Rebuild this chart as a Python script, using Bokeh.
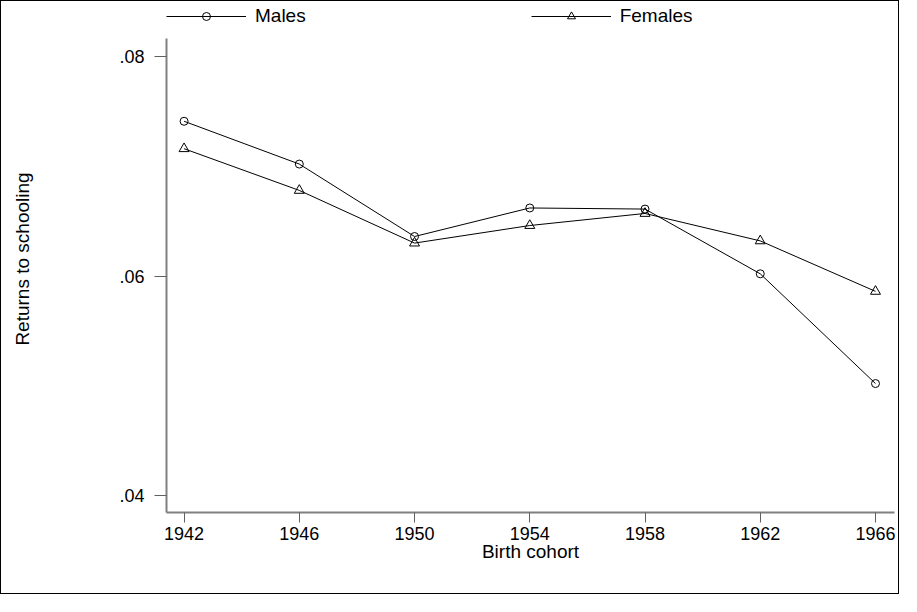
from bokeh.plotting import figure
from bokeh.models import Range1d, FixedTicker, CustomJSTickFormatter, Legend
from bokeh.embed import file_html
from bokeh.resources import INLINE

cohorts = [1942, 1946, 1950, 1954, 1958, 1962, 1966]
males = [0.0741, 0.0702, 0.0636, 0.0662, 0.0661, 0.0602, 0.0502]
females = [0.0716, 0.0678, 0.0630, 0.0646, 0.0657, 0.0632, 0.0586]
x_ticks = [1942, 1946, 1950, 1954, 1958, 1962, 1966]
y_ticks = [0.04, 0.06, 0.08]

x_lo, x_hi = 1941.39, 1966.66
y_lo, y_hi = 0.03845, 0.08164    # extent of the drawn y axis
y_top = 0.08465                  # extra headroom above the axis for the legend

FONT = "Liberation Sans"

p = figure(width=899, height=594, output_backend="svg", toolbar_location=None,
           x_range=Range1d(x_lo, x_hi), y_range=Range1d(y_lo, y_top),
           min_border_left=165, min_border_right=6, min_border_top=4, min_border_bottom=83)
p.styles = {"border": "1px solid black"}
p.outline_line_color = None
p.grid.visible = False
p.background_fill_color = "white"
p.border_fill_color = "white"

lm = p.line(cohorts, males, line_color="black", line_width=1)
pm = p.scatter(cohorts, males, marker="circle", size=8, fill_color=None, line_color="black", line_width=1)
lf = p.line(cohorts, females, line_color="black", line_width=1)
pf = p.scatter(cohorts, females, marker="triangle", size=10, fill_color=None, line_color="black", line_width=1)

for ax in (p.xaxis[0], p.yaxis[0]):
    ax.axis_line_color = "#808080"
    ax.axis_line_width = 2
    ax.major_tick_line_color = "#606060"
    ax.major_tick_in = 0
    ax.minor_tick_line_color = None
    ax.major_label_text_font = FONT
    ax.major_label_text_font_size = "18px"
    ax.major_label_text_color = "black"
    ax.axis_label_text_font = FONT
    ax.axis_label_text_font_size = "19px"
    ax.axis_label_text_font_style = "normal"
    ax.axis_label_text_color = "black"

p.xaxis.ticker = FixedTicker(ticks=x_ticks)
p.xaxis.major_tick_out = 10
p.xaxis.major_label_standoff = 4
p.xaxis.axis_label = "Birth cohort"
p.xaxis.axis_label_standoff = -2

p.yaxis.ticker = FixedTicker(ticks=y_ticks)
p.yaxis.bounds = (y_lo, y_hi)
p.yaxis.major_tick_out = 12
p.yaxis.major_label_standoff = 10
p.yaxis.major_label_orientation = "horizontal"
p.yaxis.formatter = CustomJSTickFormatter(code="return tick.toFixed(2).replace(/^0/, '');")
p.yaxis.axis_label = "Returns to schooling"
p.yaxis.axis_label_standoff = 83

legend = Legend(items=[("Males", [lm, pm]), ("Females", [lf, pf])],
                orientation="horizontal", location="top_left",
                glyph_width=80, glyph_height=20, label_standoff=9, spacing=225,
                padding=0, margin=0, border_line_color=None, background_fill_alpha=0,
                label_text_font=FONT, label_text_font_size="19px", label_height=20,
                label_text_color="black")
p.add_layout(legend)

open("out.html", "w").write(file_html(p, INLINE))
